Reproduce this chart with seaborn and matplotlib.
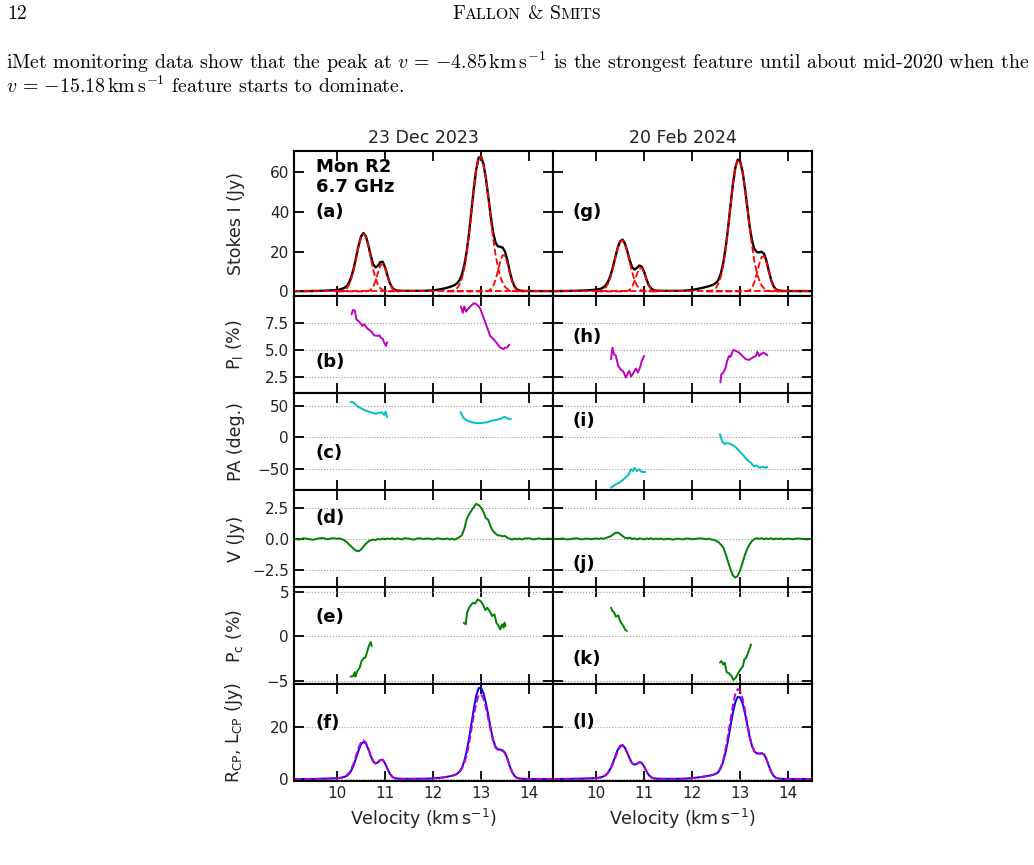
import matplotlib
matplotlib.use("Agg")
import matplotlib.pyplot as plt
import seaborn as sns

# velocity channels (km/s) shared by Stokes I, V, RCP and LCP
vel = [9.1, 9.2, 9.3, 9.4, 9.5, 9.6, 9.7, 9.8, 9.9, 10.0,
       10.05, 10.1, 10.15, 10.2, 10.25, 10.3, 10.35, 10.4, 10.45, 10.5,
       10.55, 10.6, 10.65, 10.7, 10.75, 10.8, 10.85, 10.9, 10.95, 11.0,
       11.05, 11.1, 11.15, 11.2, 11.25, 11.3, 11.35, 11.4,
       11.5, 11.6, 11.7, 11.8, 11.9, 12.0, 12.1, 12.2, 12.3,
       12.35, 12.4, 12.45, 12.5, 12.55, 12.6, 12.65, 12.7, 12.75, 12.8,
       12.85, 12.9, 12.95, 13.0, 13.05, 13.1, 13.15, 13.2, 13.25, 13.3,
       13.35, 13.4, 13.45, 13.5, 13.55, 13.6, 13.65, 13.7, 13.75, 13.8,
       13.85, 13.9,
       14.0, 14.1, 14.2, 14.3, 14.4, 14.5]

# 23 Dec 2023
stokes_i_dec = [0.1, 0.12, 0.15, 0.18, 0.22, 0.27, 0.33, 0.42, 0.55, 0.75,
                0.95, 1.3, 1.8, 2.7, 4.5, 7.6, 12.0, 17.7, 23.4, 27.7,
                29.3, 27.7, 23.3, 18.0, 13.7, 12.1, 12.9, 14.7, 14.9, 12.1,
                7.9, 4.1, 1.8, 0.8, 0.45, 0.35, 0.3, 0.3,
                0.28, 0.28, 0.3, 0.32, 0.4, 0.55, 0.85, 1.3, 1.9,
                2.3, 2.7, 3.2, 4.1, 5.6, 8.4, 13.0, 19.9, 29.3, 40.4,
                51.8, 61.3, 67.1, 67.8, 64.1, 57.0, 47.9, 38.3, 30.0, 24.7,
                22.7, 22.4, 22.0, 20.0, 15.6, 9.9, 5.3, 2.4, 1.0, 0.5,
                0.3, 0.25,
                0.2, 0.2, 0.18, 0.18, 0.17, 0.17]
stokes_v_dec = [0.02, -0.05, 0.06, 0.0, -0.06, 0.04, 0.08, -0.02, 0.07, 0.03,
                0.05, -0.02, -0.1, -0.25, -0.45, -0.62, -0.82, -0.95, -0.98, -0.85,
                -0.6, -0.38, -0.2, -0.1, -0.05, -0.08, 0.0, -0.04, 0.03, -0.02,
                0.04, 0.0, 0.06, -0.03, 0.05, 0.02, -0.04, 0.06,
                0.03, -0.05, 0.07, 0.0, 0.05, -0.03, 0.06, -0.02, 0.04,
                -0.03, 0.02, -0.05, 0.05, 0.15, 0.3, 0.8, 1.6, 2.0, 2.3,
                2.6, 2.85, 2.75, 2.55, 2.2, 1.7, 1.55, 1.0, 0.65, 0.45,
                0.3, 0.28, 0.22, 0.25, 0.1, 0.02, -0.05, 0.04, -0.02, 0.05,
                -0.04, 0.03,
                0.06, -0.03, 0.05, -0.02, 0.04, 0.0]
rcp_dec = [0.06, 0.04, 0.1, 0.09, 0.08, 0.16, 0.2, 0.2, 0.31, 0.39,
           0.5, 0.64, 0.85, 1.23, 2.03, 3.49, 5.59, 8.38, 11.21, 13.43,
           14.35, 13.66, 11.55, 8.95, 6.83, 6.01, 6.45, 7.33, 7.47, 6.04,
           3.97, 2.05, 0.93, 0.39, 0.25, 0.19, 0.13, 0.18,
           0.16, 0.12, 0.19, 0.16, 0.23, 0.26, 0.46, 0.64, 0.97,
           1.14, 1.36, 1.58, 2.08, 2.88, 4.35, 6.9, 10.75, 15.65, 21.35,
           27.2, 32.08, 34.93, 35.18, 33.15, 29.35, 24.73, 19.65, 15.33, 12.58,
           11.5, 11.34, 11.11, 10.13, 7.85, 4.96, 2.63, 1.22, 0.49, 0.28,
           0.13, 0.14,
           0.13, 0.09, 0.12, 0.08, 0.11, 0.09]
lcp_dec = [0.04, 0.09, 0.05, 0.09, 0.14, 0.12, 0.13, 0.22, 0.24, 0.36,
           0.45, 0.66, 0.95, 1.48, 2.48, 4.11, 6.41, 9.33, 12.19, 14.28,
           14.95, 14.04, 11.75, 9.05, 6.88, 6.09, 6.45, 7.37, 7.44, 6.06,
           3.93, 2.05, 0.87, 0.42, 0.2, 0.17, 0.17, 0.12,
           0.13, 0.17, 0.12, 0.16, 0.18, 0.29, 0.4, 0.66, 0.93,
           1.17, 1.34, 1.63, 2.03, 2.73, 4.05, 6.1, 9.15, 13.65, 19.05,
           24.6, 29.23, 32.18, 32.63, 30.95, 27.65, 23.18, 18.65, 14.68, 12.13,
           11.2, 11.06, 10.89, 9.88, 7.75, 4.94, 2.68, 1.18, 0.51, 0.23,
           0.17, 0.11,
           0.07, 0.11, 0.07, 0.1, 0.07, 0.08]

# 20 Feb 2024
stokes_i_feb = [0.15, 0.17, 0.2, 0.24, 0.28, 0.34, 0.42, 0.52, 0.68, 0.9,
                1.1, 1.4, 2.0, 3.1, 5.0, 8.0, 12.3, 17.2, 22.0, 25.2,
                26.0, 24.0, 20.1, 15.6, 12.2, 11.0, 11.8, 13.0, 12.5, 9.8,
                6.0, 3.0, 1.4, 0.6, 0.4, 0.35, 0.3, 0.3,
                0.28, 0.28, 0.3, 0.35, 0.5, 0.75, 1.2, 1.7, 2.3,
                2.6, 3.0, 3.5, 4.3, 5.8, 9.0, 14.3, 22.0, 31.8, 42.9,
                53.6, 62.0, 66.2, 65.3, 60.4, 52.3, 42.6, 32.7, 25.5, 21.2,
                19.8, 19.6, 19.9, 19.0, 15.4, 10.2, 5.6, 2.5, 1.0, 0.5,
                0.3, 0.25,
                0.2, 0.2, 0.18, 0.18, 0.17, 0.17]
stokes_v_feb = [0.03, -0.02, 0.05, -0.04, 0.02, 0.06, -0.03, 0.04, -0.02, 0.05,
                0.0, 0.06, 0.02, 0.08, 0.15, 0.22, 0.35, 0.5, 0.52, 0.4,
                0.25, 0.1, 0.05, 0.12, 0.0, 0.06, -0.03, 0.05, 0.02, -0.04,
                0.05, 0.0, 0.06, -0.03, 0.04, -0.02, 0.05, -0.04,
                0.03, -0.05, 0.04, -0.03, 0.05, -0.02, 0.03, 0.05, -0.02,
                0.03, -0.04, -0.06, -0.15, -0.25, -0.45, -0.69, -1.2, -1.85, -2.45,
                -2.95, -3.12, -3.0, -2.55, -1.95, -1.3, -0.8, -0.42, -0.16, 0.0,
                0.06, 0.02, 0.07, -0.02, 0.05, 0.0, 0.06, -0.03, 0.04, 0.0,
                0.05, -0.03,
                0.04, -0.02, 0.05, 0.01, -0.03, 0.03]
rcp_feb = [0.09, 0.08, 0.13, 0.1, 0.15, 0.2, 0.2, 0.28, 0.33, 0.48,
           0.55, 0.73, 1.01, 1.59, 2.58, 4.11, 6.33, 8.85, 11.26, 12.8,
           13.13, 12.05, 10.08, 7.86, 6.1, 5.53, 5.89, 6.53, 6.26, 4.88,
           3.03, 1.5, 0.73, 0.29, 0.22, 0.17, 0.18, 0.13,
           0.16, 0.12, 0.17, 0.16, 0.28, 0.37, 0.62, 0.88, 1.14,
           1.32, 1.48, 1.72, 2.08, 2.78, 4.28, 6.81, 10.4, 14.98, 20.23,
           25.33, 29.44, 31.6, 31.38, 29.23, 25.5, 20.9, 16.14, 12.67, 10.6,
           9.93, 9.81, 9.99, 9.49, 7.73, 5.1, 2.83, 1.24, 0.52, 0.25,
           0.18, 0.11,
           0.12, 0.09, 0.12, 0.1, 0.07, 0.1]
lcp_feb = [0.06, 0.1, 0.08, 0.14, 0.13, 0.14, 0.23, 0.24, 0.35, 0.43,
           0.55, 0.67, 0.99, 1.51, 2.43, 3.89, 5.98, 8.35, 10.74, 12.4,
           12.88, 11.95, 10.03, 7.74, 6.1, 5.47, 5.92, 6.48, 6.24, 4.92,
           2.98, 1.5, 0.67, 0.32, 0.18, 0.19, 0.13, 0.17,
           0.13, 0.17, 0.13, 0.19, 0.23, 0.39, 0.59, 0.83, 1.16,
           1.29, 1.52, 1.78, 2.23, 3.03, 4.73, 7.5, 11.6, 16.83, 22.68,
           28.28, 32.56, 34.6, 33.93, 31.18, 26.8, 21.7, 16.56, 12.83, 10.6,
           9.87, 9.79, 9.92, 9.51, 7.68, 5.1, 2.77, 1.27, 0.48, 0.25,
           0.13, 0.14,
           0.08, 0.11, 0.07, 0.08, 0.1, 0.07]

# gaussian components (red dashed) - low and high velocity groups, plus zero level
comp_vel_lo = [10.0, 10.05, 10.1, 10.15, 10.2, 10.25, 10.3, 10.35, 10.4, 10.45,
               10.5, 10.55, 10.6, 10.65, 10.7, 10.75, 10.8, 10.85, 10.9, 10.95,
               11.0, 11.05, 11.1, 11.15, 11.2, 11.25, 11.3]
comp_vel_hi = [12.3, 12.35, 12.4, 12.45, 12.5, 12.55, 12.6, 12.65, 12.7, 12.75,
               12.8, 12.85, 12.9, 12.95, 13.0, 13.05, 13.1, 13.15, 13.2, 13.25,
               13.3, 13.35, 13.4, 13.45, 13.5, 13.55, 13.6, 13.65, 13.7, 13.75,
               13.8, 13.85, 13.9]
base_vel = [9.1, 14.5]
base_level = [0, 0]
g1_dec = [0.02, 0.08, 0.23, 0.65, 1.6, 3.4, 6.6, 11.2, 17.0, 22.9,
          27.3, 29.0, 27.3, 22.9, 17.0, 11.2, 6.6, 3.4, 1.6, 0.65,
          0.23, 0.08, 0.02, 0, 0, 0, 0]
g2_dec = [0, 0, 0, 0, 0, 0, 0, 0, 0, 0,
          0, 0, 0, 0.2, 0.8, 2.3, 5.3, 9.3, 12.9, 14.0,
          11.7, 7.6, 3.9, 1.5, 0.48, 0.11, 0.02]
g3_dec = [0.05, 0.1, 0.28, 0.7, 1.6, 3.3, 6.4, 11.5, 18.9, 28.7,
          40.1, 51.6, 61.2, 67.0, 67.7, 63.9, 56.8, 47.4, 37.1, 27.3,
          18.9, 12.3, 7.5, 4.3, 2.3, 1.2, 0.56, 0.25, 0.1, 0.04,
          0.01, 0, 0]
g4_dec = [0, 0, 0, 0, 0, 0, 0, 0, 0, 0,
          0, 0, 0, 0, 0, 0, 0, 0.3, 1.0, 2.5,
          5.6, 10.2, 15.1, 18.2, 17.8, 14.2, 9.2, 4.8, 2.1, 0.7,
          0.2, 0.05, 0]
g1_feb = [0.04, 0.12, 0.35, 0.88, 2.0, 4.0, 7.2, 11.6, 16.7, 21.6,
          24.9, 25.8, 23.8, 19.7, 14.6, 9.7, 5.7, 3.0, 1.4, 0.62,
          0.23, 0.08, 0.02, 0, 0, 0, 0]
g2_feb = [0, 0, 0, 0, 0, 0, 0, 0, 0, 0,
          0, 0, 0, 0.24, 0.85, 2.4, 5.2, 8.7, 11.5, 11.8,
          9.4, 5.8, 2.8, 1.1, 0.31, 0.07, 0.01]
g3_feb = [0.05, 0.14, 0.36, 0.87, 1.9, 4.0, 7.5, 13.1, 21.1, 31.2,
          42.5, 53.4, 61.9, 66.1, 65.2, 60.3, 52.2, 42.3, 32.0, 22.8,
          15.1, 9.4, 5.5, 3.0, 1.5, 0.74, 0.33, 0.14, 0.05, 0.02,
          0, 0, 0]
g4_feb = [0, 0, 0, 0, 0, 0, 0, 0, 0, 0,
          0, 0, 0, 0, 0, 0, 0, 0.2, 0.7, 2.0,
          4.7, 9.0, 13.8, 17.3, 17.7, 14.7, 9.9, 5.5, 2.4, 0.9,
          0.26, 0.06, 0]

# linear polarisation fraction (%)
pl_dec_v1 = [10.3, 10.33, 10.37, 10.4, 10.46, 10.53, 10.56, 10.63, 10.7, 10.77,
             10.84, 10.88, 10.91, 10.95, 10.98, 11.02, 11.04]
pl_dec_1 = [8.26, 8.66, 8.6, 7.8, 7.57, 7.19, 7.35, 6.95, 6.74, 6.33,
            6.27, 6.33, 6.12, 6.0, 5.66, 5.35, 5.7]
pl_dec_v2 = [12.58, 12.62, 12.65, 12.69, 12.72, 12.78, 12.85, 12.9, 12.97, 13.02,
             13.09, 13.14, 13.19, 13.26, 13.33, 13.4, 13.47, 13.5, 13.54, 13.59]
pl_dec_2 = [8.98, 8.4, 8.98, 8.5, 8.7, 9.0, 9.27, 9.2, 8.9, 8.35,
            7.5, 6.9, 6.27, 5.97, 5.6, 5.2, 5.06, 5.2, 5.2, 5.47]
pl_feb_v1 = [10.31, 10.34, 10.37, 10.41, 10.46, 10.51, 10.57, 10.62, 10.65, 10.69,
             10.73, 10.78, 10.83, 10.87, 10.92, 10.95, 11.0]
pl_feb_1 = [4.13, 5.2, 4.6, 4.45, 3.52, 3.2, 2.98, 2.45, 2.75, 3.06,
            2.54, 2.9, 3.27, 2.9, 3.45, 3.97, 4.44]
pl_feb_v2 = [12.59, 12.61, 12.65, 12.7, 12.73, 12.77, 12.8, 12.86, 12.91, 12.98,
             13.05, 13.12, 13.19, 13.26, 13.33, 13.36, 13.4, 13.43, 13.49, 13.54, 13.57]
pl_feb_2 = [2.0, 2.75, 2.9, 3.36, 3.97, 4.43, 4.34, 4.98, 4.9, 4.74,
            4.43, 4.13, 4.07, 4.28, 4.43, 4.8, 4.43, 4.59, 4.74, 4.59, 4.5]

# polarisation angle (deg)
pa_dec_v1 = [10.28, 10.33, 10.38, 10.45, 10.52, 10.59, 10.66, 10.73, 10.8, 10.87,
             10.93, 10.98, 11.01, 11.04]
pa_dec_1 = [56, 56, 52.5, 48, 45.5, 42.8, 41, 39, 37.6, 39, 40, 35.7, 41, 32]
pa_dec_v2 = [12.57, 12.64, 12.71, 12.81, 12.92, 13.02, 13.13, 13.23, 13.34, 13.44,
             13.49, 13.55, 13.62]
pa_dec_2 = [40, 30.5, 26.6, 24, 22.4, 23, 24, 26.6, 28, 30.7, 32.8, 30, 29]
pa_feb_v1 = [10.31, 10.4, 10.5, 10.61, 10.68, 10.72, 10.77, 10.8, 10.85, 10.9,
             10.95, 11.02]
pa_feb_1 = [-80, -75, -71, -64, -58.8, -50.8, -53.5, -48.3, -53.5, -50.8, -55, -55]
pa_feb_v2 = [12.58, 12.63, 12.68, 12.73, 12.8, 12.87, 12.94, 13.01, 13.08, 13.15,
             13.22, 13.29, 13.35, 13.4, 13.47, 13.54, 13.57]
pa_feb_2 = [5.3, -7, -10.6, -9, -10.6, -13.4, -17.7, -24, -29.4, -35.9,
            -40, -45.7, -44.6, -48.3, -46.7, -48.3, -46.7]

# circular polarisation fraction (%)
pc_dec_v1 = [10.28, 10.33, 10.37, 10.38, 10.42, 10.47, 10.51, 10.56, 10.59, 10.63,
             10.66, 10.7, 10.72]
pc_dec_1 = [-4.56, -4.5, -4.06, -4.56, -3.93, -3.56, -2.81, -2.43, -2.43, -1.69,
            -1.12, -0.67, -1.12]
pc_dec_v2 = [12.64, 12.68, 12.71, 12.75, 12.8, 12.84, 12.88, 12.93, 12.99, 13.04,
             13.09, 13.13, 13.18, 13.23, 13.28, 13.32, 13.37, 13.4, 13.44, 13.47,
             13.49, 13.51]
pc_dec_2 = [1.5, 1.32, 2.63, 3.19, 3.56, 3.75, 3.67, 4.12, 3.93, 3.56,
            2.93, 3.19, 2.81, 2.25, 2.44, 1.5, 1.12, 0.75, 1.32, 0.94,
            1.5, 1.12]
pc_feb_v1 = [10.31, 10.34, 10.37, 10.41, 10.46, 10.5, 10.53, 10.57, 10.6, 10.64]
pc_feb_1 = [3.19, 2.81, 2.7, 2.18, 2.33, 1.69, 1.42, 1.12, 0.75, 0.56]
pc_feb_v2 = [12.58, 12.61, 12.65, 12.68, 12.72, 12.77, 12.82, 12.86, 12.91, 12.96,
             13.01, 13.06, 13.09, 13.13, 13.18, 13.23]
pc_feb_2 = [-2.99, -2.81, -3.19, -2.99, -4.04, -4.19, -4.49, -4.94, -4.68, -4.19,
            -3.74, -3.37, -2.62, -2.43, -1.69, -0.94]

dates = ["23 Dec 2023", "20 Feb 2024"]
panel_letters = [["(a)", "(b)", "(c)", "(d)", "(e)", "(f)"],
                 ["(g)", "(h)", "(i)", "(j)", "(k)", "(l)"]]
ylabels = ["Stokes I (Jy)", r"P$_\mathrm{l}$ (%)", "PA (deg.)", "V (Jy)",
           r"P$_\mathrm{c}$ (%)", r"R$_\mathrm{CP}$, L$_\mathrm{CP}$ (Jy)"]
yticks = [[0, 20, 40, 60], [2.5, 5.0, 7.5], [-50, 0, 50], [-2.5, 0.0, 2.5], [-5, 0, 5], [0, 20]]
ylims = [(-2.5, 70.5), (1.0, 9.9), (-84, 70), (-3.9, 3.95), (-5.4, 5.5), (-0.7, 36.5)]

epochs = [
    dict(i=stokes_i_dec, v=stokes_v_dec, r=rcp_dec, l=lcp_dec,
         g_lo=[g1_dec, g2_dec], g_hi=[g3_dec, g4_dec],
         pl=[(pl_dec_v1, pl_dec_1), (pl_dec_v2, pl_dec_2)],
         pa=[(pa_dec_v1, pa_dec_1), (pa_dec_v2, pa_dec_2)],
         pc=[(pc_dec_v1, pc_dec_1), (pc_dec_v2, pc_dec_2)]),
    dict(i=stokes_i_feb, v=stokes_v_feb, r=rcp_feb, l=lcp_feb,
         g_lo=[g1_feb, g2_feb], g_hi=[g3_feb, g4_feb],
         pl=[(pl_feb_v1, pl_feb_1), (pl_feb_v2, pl_feb_2)],
         pa=[(pa_feb_v1, pa_feb_1), (pa_feb_v2, pa_feb_2)],
         pc=[(pc_feb_v1, pc_feb_1), (pc_feb_v2, pc_feb_2)]),
]
# label positions (axes fraction) for each column
label_y = [[0.58, 0.32, 0.385, 0.714, 0.69, 0.60],
           [0.58, 0.577, 0.71, 0.235, 0.26, 0.61]]
label_x = [0.085, 0.077]

sns.set_style("ticks")
plt.rcParams['font.family'] = ['DejaVu Sans']
plt.rcParams['mathtext.fontset'] = 'dejavusans'
plt.rcParams['axes.edgecolor'] = 'black'
plt.rcParams['axes.linewidth'] = 1.5

fig = plt.figure(figsize=(10.34, 8.65), dpi=100)
gs = fig.add_gridspec(6, 2, left=0.2843, right=0.7853, top=0.8254, bottom=0.0971,
                      hspace=0, wspace=0, height_ratios=[1.5, 1, 1, 1, 1, 1])

def line(ax, x, y, **kw):
    sns.lineplot(x=x, y=y, ax=ax, estimator=None, sort=False, **kw)

for c, ep in enumerate(epochs):
    axs = [fig.add_subplot(gs[r, c]) for r in range(6)]

    # (a)/(g) Stokes I with gaussian components
    line(axs[0], vel, ep["i"], color="black", lw=1.7)
    line(axs[0], base_vel, base_level, color="red", lw=1.3, linestyle="--")
    for g in ep["g_lo"]:
        line(axs[0], comp_vel_lo, g, color="red", lw=1.3, linestyle="--")
    for g in ep["g_hi"]:
        line(axs[0], comp_vel_hi, g, color="red", lw=1.3, linestyle="--")

    for xs, ys in ep["pl"]:
        line(axs[1], xs, ys, color="m", lw=1.4)
    for xs, ys in ep["pa"]:
        line(axs[2], xs, ys, color="c", lw=1.4)
    line(axs[3], vel, ep["v"], color="g", lw=1.4)
    for xs, ys in ep["pc"]:
        line(axs[4], xs, ys, color="g", lw=1.4)
    line(axs[5], vel, ep["r"], color="b", lw=1.4)
    line(axs[5], vel, ep["l"], color="m", lw=1.4, linestyle="--")

    for r, ax in enumerate(axs):
        ax.set_xlim(9.1, 14.5)
        ax.set_ylim(*ylims[r])
        ax.set_xticks([10, 11, 12, 13, 14])
        ax.set_yticks(yticks[r])
        ax.tick_params(direction="in", length=7, width=1.3, top=True, right=True,
                       labelsize=11, colors="black", labelcolor="#222222")
        if r > 0:
            ax.grid(axis="y", ls=":", color="0.6", lw=0.8)
        if r < 5:
            ax.tick_params(labelbottom=False)
            ax.set_xlabel("")
        else:
            ax.set_xlabel(r"Velocity (km$\,$s$^{-1}$)", fontsize=12.5, color="#222222")
        if c == 1:
            ax.tick_params(labelleft=False)
            ax.set_ylabel("")
        else:
            ax.set_ylabel(ylabels[r], fontsize=12.5, color="#222222")
            ax.yaxis.set_label_coords(-0.19, 0.5)
        ax.text(label_x[c], label_y[c][r], panel_letters[c][r], transform=ax.transAxes,
                fontsize=13, fontweight="bold", va="center", ha="left", color="black")
    axs[0].set_title(dates[c], fontsize=12.5, pad=6, color="#222222")
    if c == 0:
        axs[0].text(0.085, 0.955, "Mon R2\n6.7 GHz", transform=axs[0].transAxes,
                    fontsize=13, fontweight="bold", va="top", ha="left",
                    linespacing=1.15, color="black")

# page text around the figure
rend = fig.canvas.get_renderer()

def put(x_px, y_px, s, size):
    t = fig.text(x_px / 1034, 1 - y_px / 865, s, fontsize=size, family="cmr10",
                 math_fontfamily="cm", va="baseline", ha="left", color="black")
    return t, t.get_window_extent(renderer=rend).width

line1 = (r"iMet monitoring data show that the peak at $v\,=\,{-4.85}\,\mathrm{km\,s^{-1}}$"
         r" is the strongest feature until about mid-2020 when the")
line2 = r"$v\,=\,{-15.18}\,\mathrm{km\,s^{-1}}$ feature starts to dominate."
t1, w1 = put(6, 69, line1, 14)
body = 14 * 1024 / w1
t1.set_fontsize(body)
put(6, 93, line2, body)
put(7, 19, "12", body)

x = 452
gap = body * 100 / 72 * 0.33
for s, scale, pre in [("F", 1.0, 0), ("ALLON", 0.8, 0), ("&", 1.0, gap),
                      ("S", 1.0, gap), ("MITS", 0.8, 0)]:
    x += pre
    t, w = put(x, 19, s, body * scale)
    x += w

fig.savefig("out.png", dpi=100)
